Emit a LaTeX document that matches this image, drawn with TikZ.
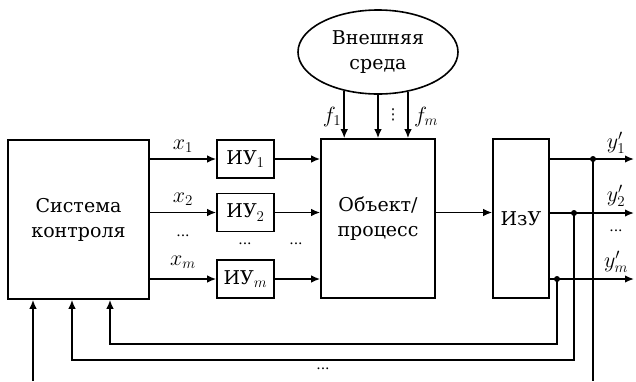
\RequirePackage{fix-cm}
\documentclass[tikz,border=0pt]{standalone}
\usepackage{fontspec}
\setmainfont{DejaVu Serif}
\newfontfamily\dsans{DejaVu Sans}
\DeclareMathSizes{19}{22}{15}{12}
\usetikzlibrary{arrows.meta,shapes.geometric}
\begin{document}
\begin{tikzpicture}[x=1pt,y=-1pt,font=\fontsize{19}{25}\selectfont]
\tikzset{
 blk/.style={draw, line width=1.6pt, inner sep=0pt, align=center},
 arr/.style={line width=1.6pt, -{Latex[length=9pt,width=7.5pt]}},
 ln/.style={line width=1.6pt},
 jdot/.style={circle, fill, inner sep=0pt, minimum size=6pt},
 lbl/.style={inner sep=0pt},
 dotl/.style={inner sep=0pt, font=\fontsize{14}{16}\selectfont}
}
\useasboundingbox (0,0) rectangle (636,381);
% blocks
\node[blk, minimum width=141pt, minimum height=159pt] (sys) at (78.5,219.5) {Система\\контроля};
\node[blk, minimum width=57pt, minimum height=38pt] (iu1) at (245.5,159) {ИУ$_1$};
\node[blk, minimum width=57pt, minimum height=38pt] (iu2) at (245.5,212.5) {ИУ$_2$};
\node[blk, minimum width=57pt, minimum height=38pt] (ium) at (245.5,279) {ИУ$_m$};
\node[blk, minimum width=114pt, minimum height=159pt] (obj) at (378,218.5) {Объект/\\процесс};
\node[blk, minimum width=56pt, minimum height=159pt] (izu) at (521,218.5) {ИзУ};
\node[blk, ellipse, minimum width=160pt, minimum height=84pt] (env) at (378,52) {Внешняя\\среда};
% inputs x
\draw[arr] (sys.east |- iu1.west) -- (iu1.west);
\draw[arr] (sys.east |- iu2.west) -- (iu2.west);
\draw[arr] (sys.east |- ium.west) -- (ium.west);
\node[lbl] (lx1) at (183,146) {$x_1$};
\node[lbl] (lx2) at (183,199) {$x_2$};
\node[dotl] (lxd) at (183,236) {...};
\node[lbl] (lxm) at (183,262) {$x_m$};
% IU to object
\draw[arr] (iu1.east) -- (iu1.east -| obj.west);
\draw[arr] (iu2.east) -- (iu2.east -| obj.west);
\draw[arr] (ium.east) -- (ium.east -| obj.west);
\node[dotl] (ld1) at (245,244) {...};
\node[dotl] (ld2) at (296,244) {...};
% environment
\draw[arr] (env.229.7) -- (env.229.7 |- obj.north);
\draw[arr] (env.south) -- (env.south |- obj.north);
\draw[arr] (env.307.6) -- (env.307.6 |- obj.north);
\node[lbl] (lf1) at (332,117) {$f_1$};
\node[lbl, font=\dsans\fontsize{15}{16}\selectfont] (lfd) at (393,115) {⋮};
\node[lbl] (lfm) at (426,117) {$f_m$};
% object to IzU
\draw[arr] (obj.east |- iu2) -- (izu.west |- iu2);
% outputs
\coordinate (o1) at (634,159);
\coordinate (o2) at (634,213);
\coordinate (om) at (634,279);
\draw[arr] (izu.east |- o1) -- (o1);
\draw[arr] (izu.east |- o2) -- (o2);
\draw[arr] (izu.east |- om) -- (om);
\node[jdot] (d1) at (593,159) {};
\node[jdot] (d2) at (574,213) {};
\node[jdot] (dm) at (557,279) {};
\node[lbl] (ly1) at (616,143) {$y'_1$};
\node[lbl] (ly2) at (616,196) {$y'_2$};
\node[dotl] (lyd) at (616,231) {...};
\node[lbl] (lym) at (616,262) {$y'_m$};
% feedback
\coordinate (fm) at (110,344);
\coordinate (f2) at (72,360);
\coordinate (b1) at (593,381);
\coordinate (b0) at (33,381);
\draw[arr] (dm.center) |- (fm) -- (fm |- sys.south);
\draw[arr] (d2.center) |- (f2) -- (f2 |- sys.south);
\draw[ln] (d1.center) -- (b1);
\draw[arr] (b0) -- (b0 |- sys.south);
\node[dotl] (lbd) at (323,369) {...};
\end{tikzpicture}
\end{document}
